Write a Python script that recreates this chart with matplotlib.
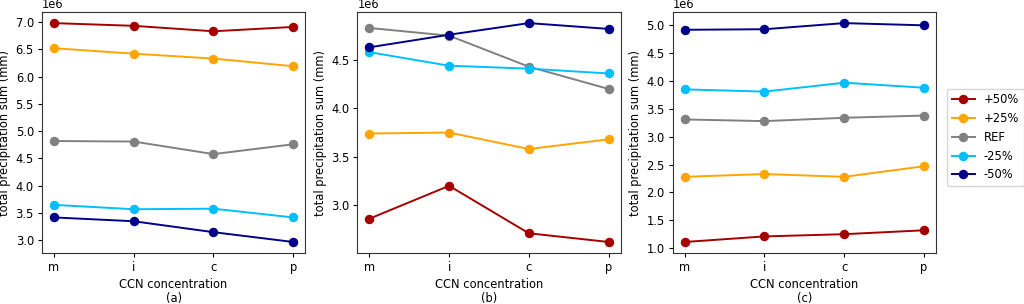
import matplotlib
matplotlib.use('Agg')
import matplotlib.pyplot as plt
from matplotlib.ticker import MultipleLocator

plt.rcParams['font.size'] = 8.3
plt.rcParams['xtick.major.size'] = 3
plt.rcParams['ytick.major.size'] = 3
plt.rcParams['xtick.major.pad'] = 2.8
plt.rcParams['ytick.major.pad'] = 2.8
plt.rcParams['axes.labelpad'] = 3.0
plt.rcParams['axes.linewidth'] = 0.8
plt.rcParams['axes.edgecolor'] = '#333333'

ccn = ['m', 'i', 'c', 'p']
labels = ['+50%', '+25%', 'REF', '-25%', '-50%']
colors = ['#a50000', 'orange', 'grey', 'deepskyblue', 'darkblue']

# panel (a)
a_vals = [
  [6.98, 6.93, 6.83, 6.91],
  [6.52, 6.42, 6.33, 6.19],
  [4.82, 4.81, 4.58, 4.76],
  [3.65, 3.57, 3.58, 3.42],
  [3.42, 3.35, 3.15, 2.97],
]
# panel (b)
b_vals = [
  [2.86, 3.20, 2.71, 2.62],
  [3.74, 3.75, 3.58, 3.68],
  [4.83, 4.75, 4.43, 4.20],
  [4.58, 4.44, 4.41, 4.36],
  [4.63, 4.76, 4.88, 4.82],
]
# panel (c)
c_vals = [
  [1.11, 1.21, 1.25, 1.32],
  [2.28, 2.33, 2.28, 2.47],
  [3.31, 3.28, 3.34, 3.38],
  [3.85, 3.81, 3.97, 3.88],
  [4.92, 4.93, 5.04, 5.00],
]
panels = [('(a)', a_vals), ('(b)', b_vals), ('(c)', c_vals)]

fig = plt.figure(figsize=(10.24, 3.04), dpi=100)
lefts = [0.041, 0.349, 0.657]
w = 0.257
bottom = 0.168
h = 0.792

for left, (tag, vals) in zip(lefts, panels):
  ax = fig.add_axes([left, bottom, w, h])
  for lab, col, v in zip(labels, colors, vals):
    ax.plot(ccn, [x * 1e6 for x in v], color=col, marker='o', ms=5.8, lw=1.4, label=lab)
  ax.yaxis.set_major_locator(MultipleLocator(0.5e6))
  ax.set_xlabel('CCN concentration\n' + tag, linespacing=1.1)
  ax.set_ylabel('total precipitation sum (mm)')

ax.legend(loc='center left', bbox_to_anchor=(1.02, 0.48))

fig.savefig('out.png', dpi=100)
